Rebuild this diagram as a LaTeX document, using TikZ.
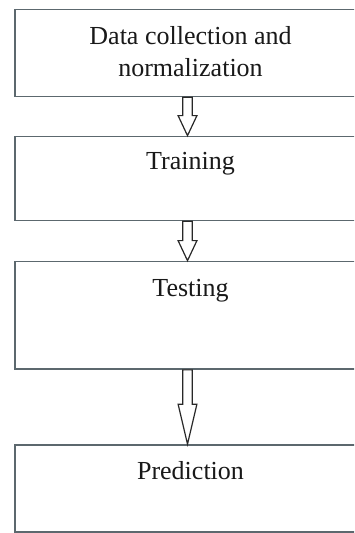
\documentclass[tikz,border=0pt]{standalone}
\usepackage{fontspec}
\setmainfont{Liberation Serif}
\usetikzlibrary{fit,calc}
\definecolor{boxline}{RGB}{92,104,110}
\definecolor{arrline}{RGB}{40,40,40}
\definecolor{txtcol}{RGB}{25,25,25}
\tikzset{
  box/.style={draw=boxline, line width=0.85pt, fill=white, inner sep=0pt, rectangle},
  txt/.style={font=\fontsize{13}{15.85}\selectfont, text=txtcol, inner sep=0pt, anchor=base},
  blockarrow/.style={draw=arrline, line width=0.6pt, fill=white, line join=miter},
}
\newcommand\blockarr[3]{%
  \draw[blockarrow] ($(#1)+(-4.8,0)$) -- ($(#2)+(-4.8,-#3)$) -- ($(#2)+(-9.4,-#3)$)
    -- (#2) -- ($(#2)+(9.4,-#3)$) -- ($(#2)+(4.8,-#3)$) -- ($(#1)+(4.8,0)$) -- cycle;}
\begin{document}
\begin{tikzpicture}[x=0.5pt,y=-0.5pt]
  \useasboundingbox (0,0) rectangle (354,533);
  \clip (0,0) rectangle (354,533);
  \fill[white] (0,0) rectangle (354,533);
  % boxes
  \node[box, fit={(15,9.5) (364,96.5)}] (b1) {};
  \node[box, fit={(15,136.5) (364,220.5)}] (b2) {};
  \node[box, fit={(15,261.5) (364,369)}] (b3) {};
  \node[box, fit={(15,445) (364,532)}] (b4) {};
  % texts
  \node[txt] (t1a) at (190.5,45) {Data collection and};
  \node[txt] (t1b) at (190.5,76.7) {normalization};
  \node[txt] (t2) at (190.5,169.3) {Training};
  \node[txt] (t3) at (190.5,296.7) {Testing};
  \node[txt] (t4) at (190.5,479.3) {Prediction};
  % arrows
  \coordinate (ax) at (187.5,0);
  \coordinate (a1t) at (b1.south -| ax);
  \coordinate (a1h) at (b2.north -| ax);
  \coordinate (a2t) at (b2.south -| ax);
  \coordinate (a2h) at (b3.north -| ax);
  \coordinate (a3t) at (b3.south -| ax);
  \coordinate (a3h) at (b4.north -| ax);
  \blockarr{a1t}{a1h}{20}
  \blockarr{a2t}{a2h}{20}
  \blockarr{a3t}{a3h}{40}
\end{tikzpicture}
\end{document}
